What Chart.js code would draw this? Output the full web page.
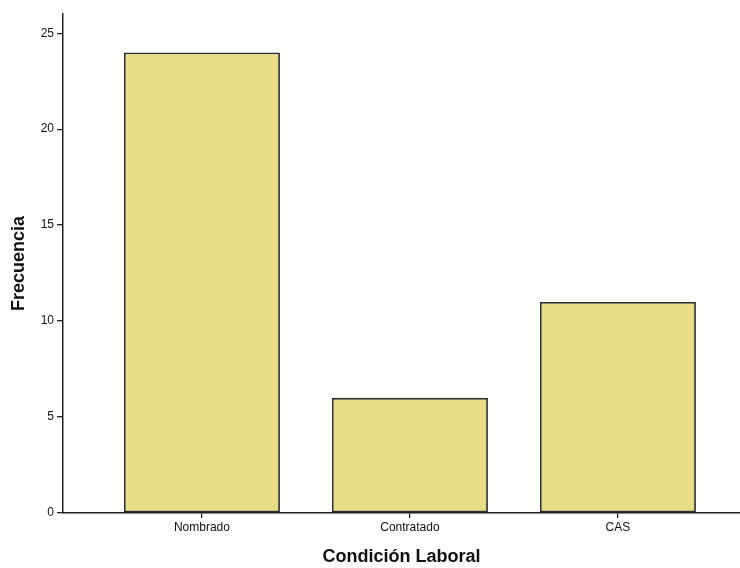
<!DOCTYPE html>
<html>
<head>
<meta charset="utf-8">
<script src="https://cdn.jsdelivr.net/npm/chart.js@4"></script>
<style>
  html, body { margin: 0; padding: 0; background: #fff; }
  #wrap { width: 740px; height: 568px; }
</style>
</head>
<body>
<div id="wrap"><canvas id="barChart"></canvas></div>
<script>
const categories = ['Nombrado', 'Contratado', 'CAS'];
const frecuencias = [24, 6, 11];
const yTicks = [0, 5, 10, 15, 20, 25];

document.addEventListener('DOMContentLoaded', () => {
    const ctx = document.getElementById('barChart').getContext('2d');
    const tickFont = { family: 'Liberation Sans', size: 12 };

    new Chart(ctx, {
        type: 'bar',
        data: {
            datasets: [{
                label: 'Frecuencia',
                data: frecuencias.map((v, i) => ({ x: i, y: v })),
                backgroundColor: '#E6DD84',
                borderColor: '#2e2e2e',
                borderWidth: 1.8,
                borderSkipped: false,
                categoryPercentage: 1,
                barPercentage: 0.75
            }]
        },
        options: {
            responsive: true,
            maintainAspectRatio: false,
            animation: false,
            layout: { padding: { top: 14, right: 0, left: 0, bottom: 0 } },
            plugins: {
                legend: { display: false },
                tooltip: { enabled: false }
            },
            scales: {
                x: {
                    type: 'linear',
                    offset: false,
                    min: -0.668,
                    max: 2.587,
                    afterBuildTicks: (scale) => {
                        scale.ticks = categories.map((c, i) => ({ value: i }));
                    },
                    afterFit: (scale) => { scale.height = 55; },
                    grid: { offset: false, drawOnChartArea: false, drawTicks: true, tickLength: 5, color: '#222', lineWidth: 1.3 },
                    border: { display: true, color: '#222', width: 1.5 },
                    ticks: {
                        color: '#111',
                        font: tickFont,
                        padding: 2,
                        autoSkip: false,
                        maxRotation: 0,
                        callback: (v) => categories[v]
                    },
                    title: {
                        display: true,
                        text: 'Condición Laboral',
                        color: '#111',
                        font: { family: 'Liberation Sans', size: 18, weight: 'bold' },
                        padding: { top: 0, bottom: 0 }
                    }
                },
                y: {
                    min: 0,
                    max: 26,
                    afterBuildTicks: (scale) => {
                        scale.ticks = yTicks.map(v => ({ value: v }));
                    },
                    afterFit: (scale) => { scale.width = 63; },
                    grid: { drawOnChartArea: false, drawTicks: true, tickLength: 6, color: '#222', lineWidth: 1.3 },
                    border: { display: true, color: '#222', width: 1.5 },
                    ticks: { color: '#111', font: tickFont, padding: 3 },
                    title: {
                        display: true,
                        text: 'Frecuencia',
                        color: '#111',
                        font: { family: 'Liberation Sans', size: 18, weight: 'bold' },
                        padding: { top: 8, bottom: 0 }
                    }
                }
            }
        }
    });
});
</script>
</body>
</html>
